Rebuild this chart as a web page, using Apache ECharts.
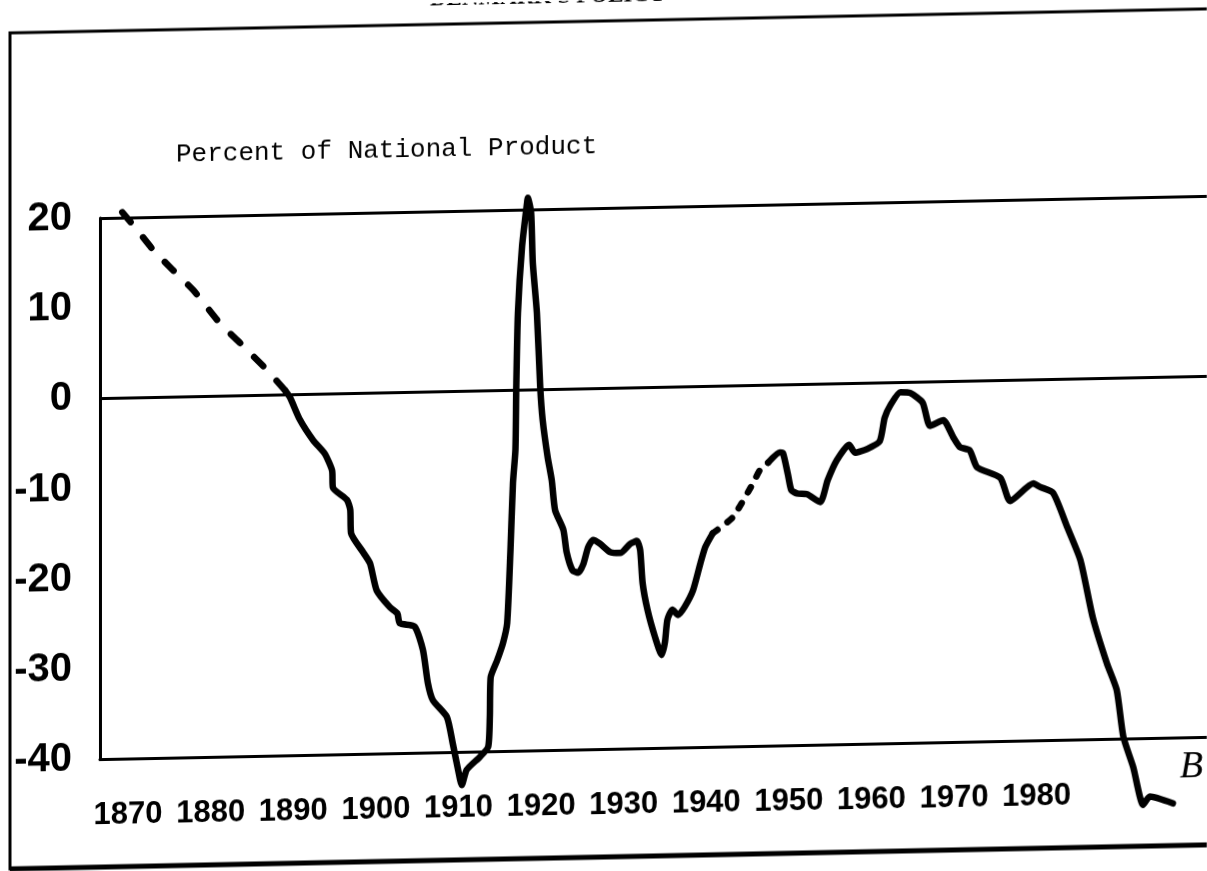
<!DOCTYPE html>
<html>
<head>
<meta charset="utf-8">
<title>Denmark's Policy</title>
<script src="https://cdn.jsdelivr.net/npm/echarts@6/dist/echarts.min.js"></script>
<style>
	html, body { margin: 0; padding: 0; background: #fff; }
	/* the scan is slightly sheared, horizontal lines climb to the right */
	#chart { width: 1207px; height: 871px; transform: skewY(-1.15deg); transform-origin: 50% 50%; }
</style>
</head>
<body>
<div id="chart"></div>
<script>
// x 轴刻度 (年份)
var yearTicks = [1870, 1880, 1890, 1900, 1910, 1920, 1930, 1940, 1950, 1960, 1970, 1980];
// y 轴刻度 (占国民生产的百分比)
var percentTicks = [-40, -30, -20, -10, 0, 10, 20];
// 参考线
var ruledLevels = [20, 0];

// 早期估计 (虚线)
var estimatedEarly = [[1869.3, 20.6], [1871.1, 18.6], [1873.0, 16.4], [1875.4, 14.1], [1877.9, 11.8],
	[1881.1, 8.1], [1883.6, 5.8], [1886.8, 2.8], [1889.0, 0.5]];

// 1889 - 1940 (实线)
var recordedPre1941 = [[1889.0, 0.5], [1889.6, -0.3], [1890.8, -2.8], [1892.4, -5.1], [1893.8, -6.6],
	[1894.7, -8.5], [1894.8, -10.4], [1896.5, -11.8], [1896.9, -12.9], [1897.0, -15.5], [1898.5, -17.7],
	[1899.3, -18.9], [1900.1, -21.9], [1901.7, -23.8], [1902.6, -24.5], [1902.9, -25.6], [1904.7, -26.0],
	[1905.7, -28.6], [1906.3, -32.3], [1906.9, -34.2], [1908.6, -36.1], [1909.3, -39.0], [1910.2, -43.1],
	[1910.4, -43.7], [1911.0, -42.0], [1912.6, -40.6], [1913.6, -39.5], [1913.8, -36.2], [1913.9, -31.8],
	[1914.7, -29.9], [1915.4, -28.0], [1915.9, -25.8], [1916.3, -17.7], [1916.6, -10.3], [1916.9, -6.6],
	[1917.0, 0.2], [1917.2, 8.5], [1917.7, 15.9], [1918.3, 20.7], [1918.4, 21.3], [1918.8, 19.6],
	[1919.0, 14.1], [1919.5, 8.5], [1919.9, 0.3], [1920.2, -3.4], [1920.8, -7.5], [1921.3, -10.1],
	[1921.7, -13.4], [1922.7, -15.6], [1923.1, -18.1], [1923.8, -20.1], [1924.5, -20.4], [1925.1, -19.5],
	[1925.7, -17.6], [1926.3, -16.8], [1927.1, -17.2], [1928.4, -18.2], [1929.6, -18.3], [1930.8, -17.3],
	[1931.6, -17.0], [1932.0, -18.0], [1932.3, -21.7], [1932.9, -24.7], [1933.8, -27.7], [1934.6, -29.7],
	[1935.0, -28.3], [1935.3, -25.8], [1935.9, -24.7], [1936.6, -25.3], [1937.4, -24.4], [1938.4, -22.6],
	[1939.3, -19.6], [1939.9, -17.8], [1940.8, -16.3]];

// 战时估计 (虚线)
var estimatedWartime = [[1940.8, -16.3], [1943.2, -14.6], [1945.7, -10.8], [1946.5, -9.4], [1947.5, -8.6]];

// 1947 以后 (实线)
var recordedPost1947 = [[1947.5, -8.6], [1948.9, -7.5], [1949.3, -7.6], [1949.9, -10.0], [1950.3, -11.7],
	[1951.0, -12.1], [1952.2, -12.2], [1953.8, -13.1], [1954.7, -10.7], [1955.8, -8.5], [1957.3, -6.8],
	[1958.0, -7.7], [1959.5, -7.3], [1961.0, -6.5], [1961.6, -3.9], [1962.3, -2.5], [1963.5, -1.1],
	[1964.7, -1.2], [1966.2, -2.3], [1967.1, -4.9], [1968.7, -4.3], [1969.9, -6.2], [1970.7, -7.3],
	[1971.9, -7.7], [1972.8, -9.6], [1975.6, -10.8], [1976.8, -13.4], [1979.6, -11.5], [1980.4, -11.9],
	[1982.0, -12.6], [1983.7, -16.4], [1985.3, -20.1], [1986.8, -26.5], [1988.5, -31.6], [1989.7, -34.6],
	[1990.5, -39.8], [1991.7, -43.2], [1992.9, -47.4], [1993.7, -46.5], [1996.5, -47.3]];

var ink = '#000';

function curve(name, data, dash, width) {
	return {
		name : name,
		type : 'line',
		data : data,
		symbol : 'none',
		smooth : 0.2,
		clip : false,
		silent : true,
		lineStyle : {
			color : ink,
			width : width,
			type : dash,
			cap : 'round',
			join : 'round'
		}
	};
}

var myChart = echarts.init(document.getElementById('chart'));

var solidFirst = curve('1889-1940', recordedPre1941, 'solid', 6.5);
// 20 和 0 的横线
solidFirst.markLine = {
	silent : true,
	symbol : 'none',
	label : { show : false },
	lineStyle : { color : ink, width : 3, type : 'solid' },
	data : ruledLevels.map(function(v) { return { yAxis : v }; })
};

var option = {
	backgroundColor : '#fff',
	animation : false,
	title : {
		text : "DENMARK'S POLICY",
		left : 430,
		top : -15,
		padding : 0,
		textStyle : {
			fontFamily : 'Liberation Serif',
			fontWeight : 'bold',
			fontSize : 23,
			color : ink
		}
	},
	grid : {
		left : 100,
		right : 0,
		top : 208,
		bottom : 122
	},
	xAxis : {
		type : 'value',
		min : 1866.6,
		max : 2000.6,
		axisLine : { show : true, onZero : false, lineStyle : { color : ink, width : 3 } },
		axisTick : { show : false },
		splitLine : { show : false },
		axisLabel : {
			customValues : yearTicks,
			hideOverlap : false,
			formatter : function(v) {
				return String(v);
			},
			margin : 41,
			color : ink,
			fontFamily : 'Liberation Sans',
			fontWeight : 'bold',
			fontSize : 31
		}
	},
	yAxis : {
		type : 'value',
		min : percentTicks[0],
		max : percentTicks[percentTicks.length - 1],
		interval : 10,
		name : 'Percent of National Product',
		nameLocation : 'end',
		nameGap : 62,
		nameTextStyle : {
			fontFamily : 'Liberation Mono',
			fontSize : 26,
			color : ink,
			align : 'left',
			verticalAlign : 'middle',
			padding : [0, 0, 0, 76]
		},
		axisLine : { show : true, onZero : false, lineStyle : { color : ink, width : 3 } },
		axisTick : { show : false },
		splitLine : { show : false },
		axisLabel : {
			margin : 28,
			color : ink,
			fontFamily : 'Liberation Sans',
			fontWeight : 'bold',
			fontSize : 40,
			padding : [14, 0, 0, 0]
		}
	},
	graphic : [ {
		// 外框
		type : 'rect',
		silent : true,
		shape : { x : 10, y : 21, width : 1260, height : 836 },
		style : { fill : null, stroke : ink, lineWidth : 3 }
	}, {
		type : 'line',
		silent : true,
		shape : { x1 : 10, y1 : 857, x2 : 1207, y2 : 857 },
		style : { stroke : ink, lineWidth : 5 }
	}, {
		// 签名
		type : 'text',
		silent : true,
		x : 1180,
		y : 760,
		style : {
			text : 'B',
			fill : ink,
			font : 'italic 38px "Liberation Serif"'
		}
	} ],
	series : [
		curve('estimate to 1889', estimatedEarly, [13, 20], 6.5),
		solidFirst,
		curve('estimate 1940s', estimatedWartime, [6, 12], 6.5),
		curve('since 1947', recordedPost1947, 'solid', 6.5)
	]
};

myChart.setOption(option);
</script>
</body>
</html>
